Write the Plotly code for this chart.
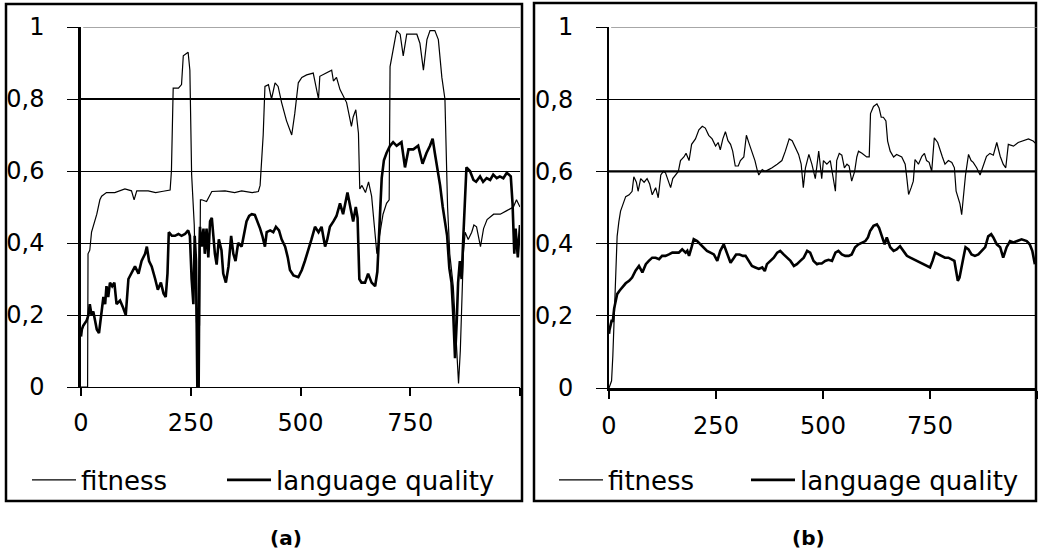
import plotly.graph_objects as go

# ---------------- data ----------------
a_fit_t = [0, 15, 16, 20, 24, 32, 36, 43, 47, 58, 77, 100, 115, 121, 127, 153, 170, 184, 203, 206, 210, 222, 229, 233, 244, 248, 252, 258, 263, 270, 272, 275, 286, 298, 328, 350, 366, 390, 404, 408, 411, 415, 419, 427, 434, 442, 449, 457, 468, 480, 487, 495, 503, 514, 529, 541, 544, 559, 571, 575, 582, 590, 597, 605, 613, 616, 620, 626, 632, 635, 640, 648, 655, 662, 668, 674, 680, 688, 696, 702, 704, 709, 715, 719, 727, 734, 742, 753, 765, 772, 780, 788, 795, 806, 814, 822, 829, 835, 840, 848, 855, 860, 864, 871, 875, 882, 890, 895, 901, 910, 917, 925, 940, 955, 970, 985, 992, 1000]
a_fit_v = [0, 0, 0.37, 0.38, 0.43, 0.46, 0.48, 0.52, 0.53, 0.54, 0.54, 0.55, 0.545, 0.52, 0.545, 0.545, 0.54, 0.543, 0.547, 0.60, 0.83, 0.83, 0.84, 0.92, 0.93, 0.88, 0.59, 0.45, 0.18, 0.17, 0.52, 0.52, 0.515, 0.543, 0.545, 0.54, 0.545, 0.54, 0.543, 0.56, 0.62, 0.70, 0.835, 0.84, 0.80, 0.845, 0.835, 0.79, 0.74, 0.70, 0.76, 0.845, 0.86, 0.867, 0.872, 0.80, 0.863, 0.872, 0.88, 0.85, 0.86, 0.826, 0.807, 0.79, 0.742, 0.724, 0.75, 0.77, 0.705, 0.55, 0.56, 0.54, 0.57, 0.53, 0.45, 0.37, 0.42, 0.48, 0.51, 0.52, 0.89, 0.92, 0.965, 0.99, 0.98, 0.92, 0.98, 0.98, 0.98, 0.955, 0.88, 0.965, 0.99, 0.99, 0.965, 0.86, 0.80, 0.50, 0.37, 0.28, 0.10, 0.01, 0.10, 0.37, 0.43, 0.41, 0.43, 0.45, 0.445, 0.39, 0.44, 0.465, 0.48, 0.48, 0.49, 0.50, 0.52, 0.50]

a_lang_t = [0, 2, 5, 13, 17, 20, 24, 28, 32, 36, 41, 46, 51, 55, 58, 62, 66, 71, 76, 81, 89, 96, 102, 108, 115, 123, 131, 138, 146, 150, 155, 161, 169, 175, 182, 188, 193, 197, 200, 207, 214, 222, 229, 237, 244, 248, 252, 256, 259, 262, 265, 268, 270, 271, 275, 279, 282, 286, 290, 294, 298, 301, 305, 309, 314, 320, 324, 330, 336, 342, 347, 352, 358, 366, 372, 377, 383, 389, 396, 402, 408, 413, 419, 423, 431, 438, 444, 451, 457, 465, 471, 476, 484, 495, 503, 510, 518, 525, 533, 541, 548, 556, 561, 567, 575, 582, 590, 597, 607, 613, 620, 626, 630, 634, 639, 647, 654, 662, 670, 675, 680, 685, 690, 696, 704, 711, 719, 730, 738, 746, 757, 768, 778, 787, 795, 801, 806, 812, 818, 824, 829, 834, 839, 844, 848, 852, 856, 859, 863, 867, 871, 875, 878, 886, 894, 900, 909, 916, 924, 932, 939, 947, 954, 962, 970, 979, 983, 987, 990, 995, 1000]
a_lang_v = [0.14, 0.16, 0.17, 0.185, 0.20, 0.23, 0.20, 0.21, 0.185, 0.16, 0.15, 0.21, 0.25, 0.23, 0.28, 0.25, 0.29, 0.28, 0.29, 0.23, 0.24, 0.22, 0.20, 0.30, 0.315, 0.335, 0.315, 0.35, 0.37, 0.39, 0.35, 0.335, 0.30, 0.27, 0.29, 0.26, 0.25, 0.315, 0.43, 0.42, 0.42, 0.425, 0.42, 0.425, 0.435, 0.42, 0.30, 0.23, 0.42, 0.35, 0.0, 0.0, 0.40, 0.445, 0.39, 0.44, 0.37, 0.44, 0.36, 0.46, 0.47, 0.42, 0.37, 0.34, 0.41, 0.38, 0.315, 0.29, 0.335, 0.42, 0.37, 0.35, 0.40, 0.39, 0.43, 0.46, 0.475, 0.48, 0.478, 0.46, 0.44, 0.42, 0.39, 0.43, 0.435, 0.43, 0.445, 0.435, 0.41, 0.39, 0.36, 0.325, 0.31, 0.305, 0.325, 0.35, 0.38, 0.41, 0.445, 0.43, 0.445, 0.39, 0.41, 0.445, 0.46, 0.475, 0.51, 0.48, 0.54, 0.50, 0.46, 0.50, 0.47, 0.30, 0.29, 0.29, 0.315, 0.29, 0.28, 0.32, 0.46, 0.58, 0.63, 0.65, 0.67, 0.68, 0.67, 0.68, 0.61, 0.66, 0.66, 0.67, 0.62, 0.65, 0.67, 0.69, 0.65, 0.61, 0.56, 0.50, 0.46, 0.42, 0.33, 0.29, 0.20, 0.08, 0.185, 0.29, 0.35, 0.30, 0.42, 0.54, 0.61, 0.60, 0.575, 0.57, 0.585, 0.57, 0.58, 0.575, 0.59, 0.58, 0.585, 0.58, 0.595, 0.585, 0.51, 0.37, 0.44, 0.36, 0.45]

b_fit_t = [0, 6, 9, 12, 15.5, 19, 23, 27, 33, 39, 47, 54, 58, 64, 68, 74, 82, 89, 95, 101, 109, 115, 121, 127, 132, 138, 144, 149, 156, 162, 167, 175, 180, 187, 193, 202, 210, 218, 225, 233, 241, 249, 255, 260, 266, 272, 278, 284, 289, 295, 302, 307, 315, 321, 328, 334, 341, 346, 350, 358, 365, 373, 381, 393, 404, 412, 421, 428, 435, 443, 449, 454, 459, 467, 474, 482, 490, 497, 501, 509, 517, 521, 529, 532, 538, 544, 550, 556, 561, 567, 574, 579, 583, 591, 602, 608, 611, 618, 626, 631, 636, 641, 647, 651, 657, 665, 672, 684, 692, 696, 700, 706, 711, 715, 723, 731, 737, 742, 748, 754, 760, 768, 774, 779, 785, 793, 801, 807, 811, 816, 820, 824, 828, 833, 840, 846, 851, 859, 867, 875, 882, 890, 898, 906, 914, 921, 927, 933, 945, 956, 968, 980, 991, 999]
b_fit_v = [0, 0.02, 0.09, 0.20, 0.33, 0.42, 0.46, 0.49, 0.51, 0.53, 0.535, 0.545, 0.585, 0.57, 0.545, 0.58, 0.57, 0.58, 0.565, 0.535, 0.555, 0.527, 0.59, 0.60, 0.596, 0.573, 0.555, 0.58, 0.59, 0.60, 0.63, 0.64, 0.65, 0.63, 0.675, 0.69, 0.715, 0.725, 0.72, 0.70, 0.69, 0.67, 0.68, 0.66, 0.69, 0.71, 0.685, 0.675, 0.656, 0.615, 0.615, 0.63, 0.64, 0.70, 0.675, 0.656, 0.63, 0.605, 0.59, 0.605, 0.60, 0.605, 0.61, 0.62, 0.63, 0.656, 0.69, 0.685, 0.665, 0.647, 0.62, 0.555, 0.61, 0.647, 0.62, 0.58, 0.656, 0.58, 0.63, 0.62, 0.63, 0.60, 0.545, 0.63, 0.65, 0.645, 0.61, 0.62, 0.615, 0.573, 0.60, 0.64, 0.656, 0.65, 0.64, 0.64, 0.76, 0.78, 0.787, 0.776, 0.75, 0.75, 0.74, 0.684, 0.656, 0.64, 0.647, 0.64, 0.62, 0.58, 0.536, 0.555, 0.573, 0.633, 0.62, 0.642, 0.65, 0.63, 0.625, 0.60, 0.693, 0.68, 0.656, 0.64, 0.62, 0.63, 0.625, 0.61, 0.545, 0.527, 0.51, 0.48, 0.536, 0.59, 0.647, 0.63, 0.625, 0.61, 0.59, 0.615, 0.642, 0.65, 0.645, 0.68, 0.642, 0.62, 0.61, 0.675, 0.67, 0.68, 0.684, 0.69, 0.684, 0.675]

b_lang_t = [0, 1, 6, 9, 12, 15.5, 19, 25, 31, 39, 47, 54, 62, 70, 78, 86, 93, 101, 109, 117, 124, 132, 140, 148, 156, 163, 171, 179, 183, 187, 193, 198, 206, 214, 222, 229, 237, 245, 253, 260, 268, 276, 284, 292, 297, 305, 313, 319, 327, 334, 342, 350, 358, 364, 369, 377, 385, 393, 400, 408, 416, 424, 432, 439, 447, 455, 463, 470, 478, 486, 490, 497, 505, 513, 521, 529, 536, 544, 552, 560, 567, 575, 583, 591, 599, 605, 610, 618, 626, 631, 638, 644, 649, 657, 665, 672, 680, 688, 696, 704, 711, 719, 727, 735, 742, 750, 756, 762, 770, 777, 785, 793, 801, 807, 811, 815, 819, 823, 828, 833, 840, 847, 855, 863, 871, 879, 886, 893, 898, 906, 914, 921, 929, 937, 945, 952, 964, 976, 983, 989, 995]
b_lang_v = [0.15, 0.16, 0.186, 0.186, 0.22, 0.24, 0.26, 0.27, 0.28, 0.29, 0.297, 0.306, 0.325, 0.338, 0.32, 0.343, 0.352, 0.361, 0.361, 0.357, 0.366, 0.366, 0.37, 0.375, 0.375, 0.375, 0.384, 0.375, 0.38, 0.366, 0.39, 0.412, 0.407, 0.398, 0.39, 0.38, 0.375, 0.37, 0.352, 0.38, 0.398, 0.37, 0.347, 0.361, 0.37, 0.37, 0.366, 0.366, 0.352, 0.338, 0.334, 0.33, 0.334, 0.324, 0.343, 0.352, 0.361, 0.375, 0.38, 0.37, 0.361, 0.352, 0.338, 0.343, 0.352, 0.361, 0.38, 0.375, 0.352, 0.343, 0.345, 0.345, 0.352, 0.355, 0.352, 0.375, 0.38, 0.37, 0.366, 0.366, 0.37, 0.39, 0.398, 0.403, 0.407, 0.417, 0.435, 0.449, 0.453, 0.444, 0.417, 0.398, 0.417, 0.39, 0.38, 0.384, 0.393, 0.38, 0.366, 0.361, 0.357, 0.352, 0.347, 0.343, 0.338, 0.334, 0.352, 0.375, 0.37, 0.366, 0.361, 0.361, 0.357, 0.352, 0.324, 0.297, 0.306, 0.334, 0.361, 0.39, 0.384, 0.37, 0.366, 0.37, 0.38, 0.39, 0.42, 0.426, 0.417, 0.398, 0.39, 0.361, 0.39, 0.407, 0.403, 0.407, 0.412, 0.407, 0.398, 0.38, 0.343]

x_tickvals = [0, 250, 500, 750, 1000]
x_ticktext = ["0", "250", "500", "750", ""]
y_tickvals = [0, 0.2, 0.4, 0.6, 0.8, 1]
series_names = ["fitness", "language quality"]
panel_labels = ["(a)", "(b)"]

# ---------------- layout helpers (pixel -> paper) ----------------
W, H = 1038, 550
def px(x):
    return x / W
def py(y):
    return 1 - y / H

FONT = "DejaVu Sans"

fig = go.Figure()
fig.add_trace(go.Scatter(x=a_fit_t, y=a_fit_v, mode="lines", name=series_names[0], showlegend=True,
                         line=dict(color="black", width=1.2), xaxis="x", yaxis="y", legend="legend"))
fig.add_trace(go.Scatter(x=a_lang_t, y=a_lang_v, mode="lines", name=series_names[1], showlegend=True,
                         line=dict(color="black", width=2.6), xaxis="x", yaxis="y", legend="legend2"))
fig.add_trace(go.Scatter(x=b_fit_t, y=b_fit_v, mode="lines", name=series_names[0], showlegend=True,
                         line=dict(color="black", width=1.2), xaxis="x2", yaxis="y2", legend="legend3"))
fig.add_trace(go.Scatter(x=b_lang_t, y=b_lang_v, mode="lines", name=series_names[1], showlegend=True,
                         line=dict(color="black", width=2.6), xaxis="x2", yaxis="y2", legend="legend4"))

def xax(domain, anchor, linew):
    return dict(domain=domain, anchor=anchor, range=[0, 1000], tickvals=x_tickvals, ticktext=x_ticktext,
                showgrid=False, zeroline=False, showline=True, linecolor="black", linewidth=linew,
                ticks="outside", ticklen=8, tickwidth=1.5, tickcolor="black", ticklabelstandoff=6,
                automargin=False,
                tickfont=dict(family=FONT, size=24, color="black"), fixedrange=True)

def yax(domain, anchor, linew):
    return dict(domain=domain, anchor=anchor, range=[0, 1.0], tickvals=y_tickvals,
                showgrid=True, gridcolor="black", gridwidth=1, zeroline=False,
                showline=True, linecolor="black", linewidth=linew,
                ticks="outside", ticklen=11, tickwidth=1, tickcolor="black", ticklabelstandoff=18,
                automargin=False,
                tickfont=dict(family=FONT, size=24, color="black"), fixedrange=True)

def leg(xpix):
    return dict(x=px(xpix), y=py(480), orientation="h", yanchor="middle", xanchor="left", itemwidth=44,
                font=dict(family=FONT, size=26, color="black"), bgcolor="rgba(0,0,0,0)",
                itemclick=False, itemdoubleclick=False, visible=True)

# gridline restyling seen in the original: heavier 0,8 (a) / 0,6 (b), lighter top line at 1
def hline(xref, yref, yval, color="black", width=2.2, layer="below"):
    return dict(type="line", xref=xref + " domain", yref=yref, x0=0, x1=1, y0=yval, y1=yval,
                line=dict(color=color, width=width), layer=layer)

fig.update_layout(
    width=W, height=H, margin=dict(l=0, r=0, t=0, b=0, pad=0, autoexpand=False),
    paper_bgcolor="white", plot_bgcolor="white",
    showlegend=True,
    separators=", ",
    xaxis=xax([px(81), px(520)], "y", 1),
    yaxis=yax([py(387), py(27)], "x", 2.5),
    xaxis2=xax([px(609), px(1037)], "y2", 2.5),
    yaxis2=yax([py(388), py(27)], "x2", 2),
    legend=leg(27),
    legend2=leg(222),
    legend3=leg(554),
    legend4=leg(746),
    shapes=[
        dict(type="rect", xref="paper", yref="paper", x0=px(6), x1=px(522), y0=py(501), y1=py(4),
             line=dict(color="black", width=2.5)),
        dict(type="rect", xref="paper", yref="paper", x0=px(534), x1=px(1036), y0=py(501), y1=py(3),
             line=dict(color="black", width=2.5)),
        hline("x", "y", y_tickvals[4]),
        hline("x2", "y2", y_tickvals[3]),
        dict(type="line", xref="x domain", yref="y", x0=0.005, x1=1, y0=y_tickvals[5], y1=y_tickvals[5],
             line=dict(color="#8a8a8a", width=1.6), layer="above"),
        dict(type="line", xref="x2 domain", yref="y2", x0=0.005, x1=1, y0=y_tickvals[5], y1=y_tickvals[5],
             line=dict(color="#8a8a8a", width=1.6), layer="above"),
    ],
    annotations=[
        dict(text="<b>" + panel_labels[0] + "</b>", x=px(286), y=py(538), xref="paper", yref="paper",
             xanchor="center", yanchor="middle", showarrow=False,
             font=dict(family=FONT, size=20, color="black")),
        dict(text="<b>" + panel_labels[1] + "</b>", x=px(808), y=py(538), xref="paper", yref="paper",
             xanchor="center", yanchor="middle", showarrow=False,
             font=dict(family=FONT, size=20, color="black")),
    ],
)

fig.write_html("out.html", config={"displayModeBar": False},
               post_script="document.body.style.margin='0px';document.body.style.overflow='hidden';")
